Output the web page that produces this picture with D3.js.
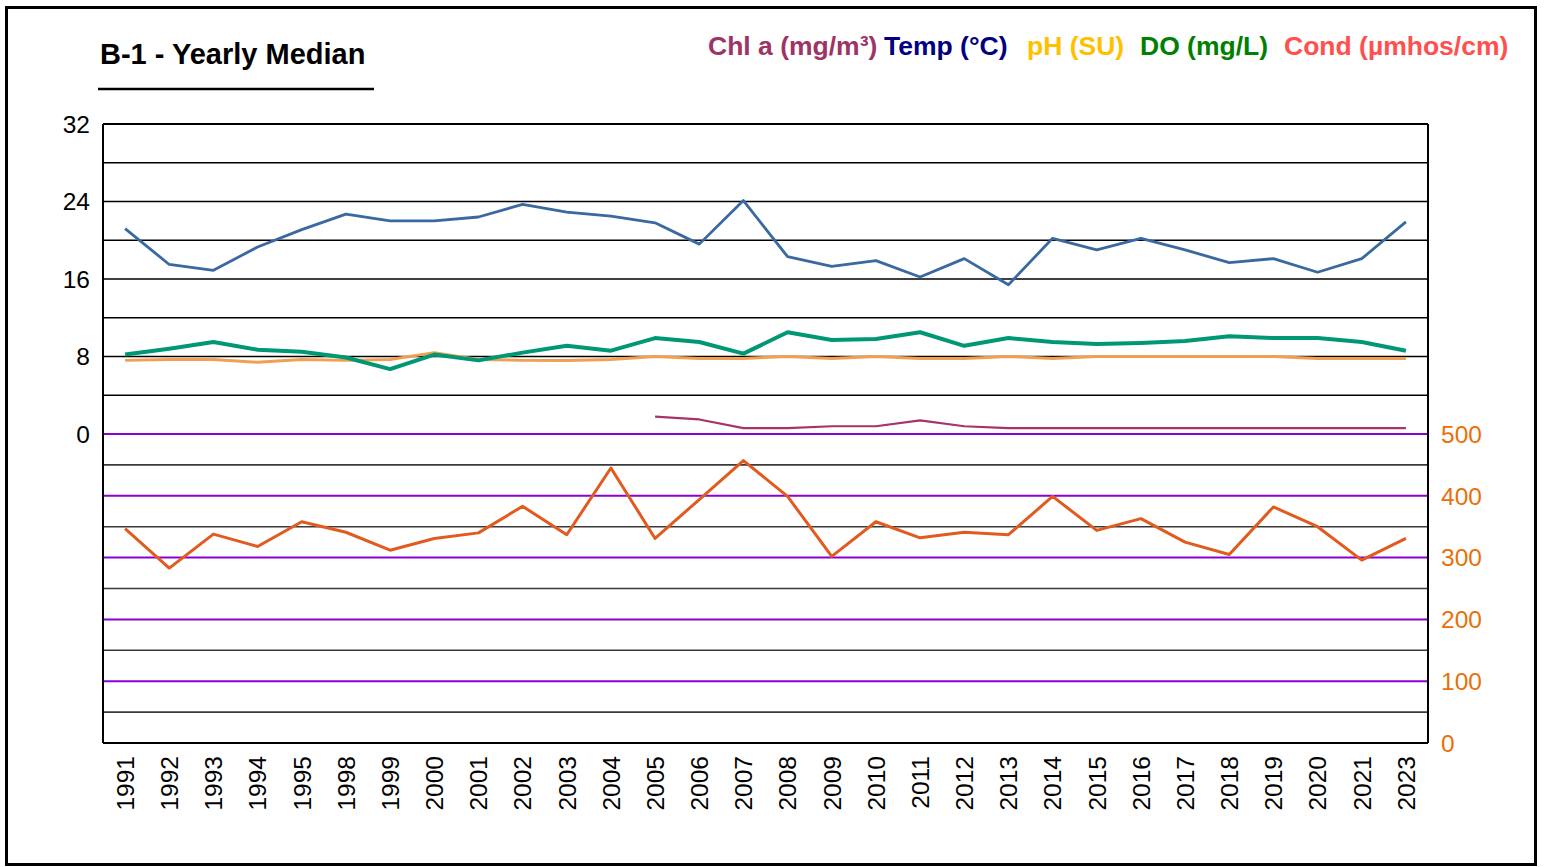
<!DOCTYPE html>
<html>
<head>
<meta charset="utf-8">
<script src="https://cdn.jsdelivr.net/npm/d3@7"></script>
<style>
  html, body { margin: 0; padding: 0; background: #fff; }
  svg { display: block; font-family: "Liberation Sans", Arial, sans-serif; }
</style>
</head>
<body>
<svg id="chart" width="1544" height="867"></svg>
<script>
// Yearly medians for station B-1
const years = ["1991","1992","1993","1994","1995","1998","1999","2000","2001","2002","2003","2004","2005","2006","2007","2008","2009","2010","2011","2012","2013","2014","2015","2016","2017","2018","2019","2020","2021","2023"];

const tempC = [21.2,17.5,16.9,19.3,21.1,22.7,22.0,22.0,22.4,23.7,22.9,22.5,21.8,19.6,24.1,18.3,17.3,17.9,16.2,18.1,15.4,20.2,19.0,20.2,19.0,17.7,18.1,16.7,18.1,21.9];
const doMgL = [8.2,8.8,9.5,8.7,8.5,7.9,6.7,8.2,7.6,8.4,9.1,8.6,9.9,9.5,8.3,10.5,9.7,9.8,10.5,9.1,9.9,9.5,9.3,9.4,9.6,10.1,9.9,9.9,9.5,8.6];
const phSU = [7.6,7.7,7.7,7.4,7.7,7.6,7.7,8.4,7.7,7.6,7.6,7.7,8.0,7.8,7.8,8.0,7.8,8.0,7.8,7.8,8.0,7.8,8.0,8.0,8.0,8.0,8.0,7.8,7.8,7.8];
const chlA = [null,null,null,null,null,null,null,null,null,null,null,null,1.8,1.5,0.6,0.6,0.8,0.8,1.4,0.8,0.6,0.6,0.6,0.6,0.6,0.6,0.6,0.6,0.6,0.6];
const condUmhos = [347,283,338,318,358,341,312,331,340,383,337,445,331,394,457,399,302,358,332,341,337,399,344,363,325,305,382,350,296,331];

const leftTicks = [0, 8, 16, 24, 32];
const rightTicks = [0, 100, 200, 300, 400, 500];

const legendItems = [
  { label: "Chl a (mg/m³)", color: "#9E3366" },
  { label: "Temp (°C)", color: "#000080" },
  { label: "pH (SU)", color: "#FFC000" },
  { label: "DO (mg/L)", color: "#008000" },
  { label: "Cond (µmhos/cm)", color: "#FF5050" }
];

const svg = d3.select("#chart");
const plot = { left: 103, right: 1428, top: 124, mid: 434, bottom: 743 };
const tickFont = 24.5;

// outer frame
svg.append("rect").attr("x", 6.5).attr("y", 7.5).attr("width", 1529).attr("height", 857)
  .attr("fill", "#fff").attr("stroke", "#000").attr("stroke-width", 3);

// scales
const x = d3.scaleBand().domain(years).range([plot.left, plot.right]);
const cx = d => x(d) + x.bandwidth() / 2;
const yTop = d3.scaleLinear().domain([0, 32]).range([plot.mid, plot.top]);
const yBot = d3.scaleLinear().domain([0, 500]).range([plot.bottom, plot.mid]);

// gridlines, upper panel
const grid = svg.append("g");
d3.range(4, 32, 4).forEach(v => {
  grid.append("line").attr("x1", plot.left).attr("x2", plot.right)
    .attr("y1", yTop(v)).attr("y2", yTop(v)).attr("stroke", "#000").attr("stroke-width", 1.6);
});
// gridlines, lower panel
d3.range(50, 500, 50).forEach(v => {
  const major = v % 100 === 0;
  grid.append("line").attr("x1", plot.left).attr("x2", plot.right)
    .attr("y1", yBot(v)).attr("y2", yBot(v))
    .attr("stroke", major ? "#8A00D4" : "#3a3a3a").attr("stroke-width", major ? 2 : 1.6);
});
grid.append("line").attr("x1", plot.left).attr("x2", plot.right)
  .attr("y1", yBot(500)).attr("y2", yBot(500)).attr("stroke", "#8A00D4").attr("stroke-width", 2.2);

// plot frame
svg.append("line").attr("x1", plot.left).attr("x2", plot.right).attr("y1", plot.top).attr("y2", plot.top)
  .attr("stroke", "#000").attr("stroke-width", 2);
svg.append("line").attr("x1", plot.left).attr("x2", plot.left).attr("y1", plot.top).attr("y2", plot.bottom)
  .attr("stroke", "#000").attr("stroke-width", 2);
svg.append("line").attr("x1", plot.right).attr("x2", plot.right).attr("y1", plot.top).attr("y2", plot.bottom)
  .attr("stroke", "#000").attr("stroke-width", 2);
svg.append("line").attr("x1", plot.left).attr("x2", plot.right).attr("y1", plot.bottom).attr("y2", plot.bottom)
  .attr("stroke", "#000").attr("stroke-width", 2);

// left axis
const leftAxis = svg.append("g").attr("transform", `translate(${plot.left},0)`)
  .call(d3.axisLeft(yTop).tickValues(leftTicks).tickSize(0).tickPadding(13));
leftAxis.select(".domain").remove();
leftAxis.selectAll("text").attr("font-size", tickFont).attr("fill", "#000")
  .attr("font-family", "'Liberation Sans', Arial, sans-serif").attr("dy", "0.34em");

// right axis
const rightAxis = svg.append("g").attr("transform", `translate(${plot.right},0)`)
  .call(d3.axisRight(yBot).tickValues(rightTicks).tickSize(0).tickPadding(13));
rightAxis.select(".domain").remove();
rightAxis.selectAll("text").attr("font-size", tickFont).attr("fill", "#E8700A")
  .attr("font-family", "'Liberation Sans', Arial, sans-serif").attr("dy", "0.34em");

// x axis labels, rotated
const xAxis = svg.append("g").attr("transform", `translate(0,${plot.bottom})`)
  .call(d3.axisBottom(x).tickSize(0));
xAxis.select(".domain").remove();
xAxis.selectAll("text")
  .attr("font-size", tickFont).attr("fill", "#000")
  .attr("font-family", "'Liberation Sans', Arial, sans-serif")
  .attr("text-anchor", "end")
  .attr("transform", "rotate(-90)")
  .attr("x", -13).attr("y", 0).attr("dy", "0.36em");

// series lines
function drawLine(values, y, color, width) {
  const pts = years.map((yr, i) => ({ yr, v: values[i] }));
  const line = d3.line().defined(d => d.v != null).x(d => cx(d.yr)).y(d => y(d.v));
  svg.append("path").datum(pts).attr("d", line)
    .attr("fill", "none").attr("stroke", color).attr("stroke-width", width)
    .attr("stroke-linejoin", "round");
}
drawLine(condUmhos, yBot, "#E15A1E", 3);
drawLine(chlA, yTop, "#A63466", 2.2);
drawLine(phSU, yTop, "#F0A050", 3);
drawLine(doMgL, yTop, "#009874", 4);
drawLine(tempC, yTop, "#3A68A0", 2.8);

// title
svg.append("text").attr("x", 100).attr("y", 64).text("B-1 - Yearly Median")
  .attr("font-size", 29).attr("font-weight", "bold").attr("fill", "#000");
svg.append("line").attr("x1", 98).attr("x2", 374).attr("y1", 89).attr("y2", 89)
  .attr("stroke", "#000").attr("stroke-width", 2.4);

// legend
const legendX = [708, 884, 1027, 1140, 1284];
const legend = svg.append("g");
legendItems.forEach((item, i) => {
  legend.append("text").attr("x", legendX[i]).attr("y", 55).text(item.label)
    .attr("font-size", 26.5).attr("font-weight", "bold").attr("fill", item.color);
});
</script>
</body>
</html>
